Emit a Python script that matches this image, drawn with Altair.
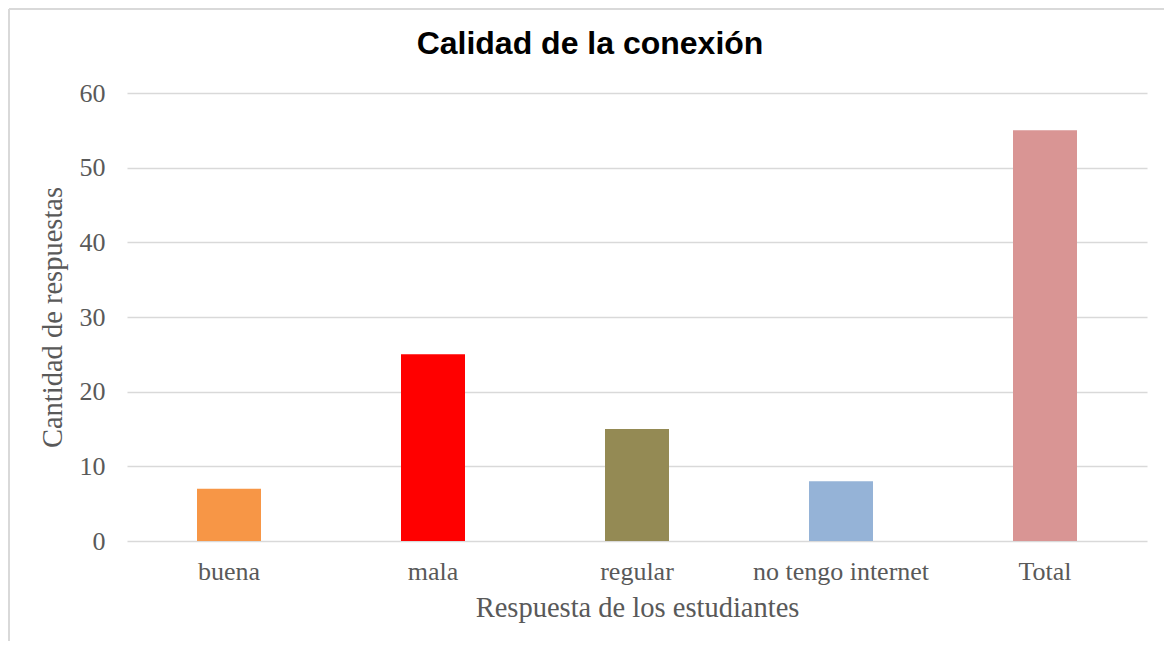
import altair as alt
import pandas as pd

categories = ["buena", "mala", "regular", "no tengo internet", "Total"]
values = [7, 25, 15, 8, 55]
colors = ["#F79646", "#FF0000", "#948A54", "#95B3D7", "#D99594"]
title_text = ["Calidad de la conexión"]

df = pd.DataFrame({"cat": categories, "val": values, "color": colors})

SERIF = "Liberation Serif"
GRAY = "#595959"

bars = alt.Chart(df).mark_bar(size=64).encode(
    x=alt.X("cat:N", sort=categories,
            scale=alt.Scale(paddingInner=0, paddingOuter=0),
            axis=alt.Axis(title="Respuesta de los estudiantes", labelAngle=0,
                          domain=False, ticks=False, labelPadding=17,
                          labelFont=SERIF, labelFontSize=26, labelColor=GRAY,
                          titleFont=SERIF, titleFontSize=28.5, titleColor=GRAY,
                          titleFontWeight="normal", titlePadding=9)),
    y=alt.Y("val:Q", scale=alt.Scale(domain=[0, 60]),
            axis=alt.Axis(title="Cantidad de respuestas", values=[0, 10, 20, 30, 40, 50, 60],
                          domain=False, ticks=False, labelPadding=22,
                          gridColor="#D9D9D9", gridWidth=1.5,
                          labelFont=SERIF, labelFontSize=26, labelColor=GRAY,
                          titleFont=SERIF, titleFontSize=28.5, titleColor=GRAY,
                          titleFontWeight="normal", titlePadding=12)),
    color=alt.Color("color:N", scale=None),
)

title = alt.Chart(pd.DataFrame({"t": title_text})).mark_text(
    font="Liberation Sans", fontSize=32, fontWeight="bold", color="#000000",
    align="center", baseline="middle"
).encode(text="t:N", x=alt.value(463), y=alt.value(-49))

border_left = alt.Chart(df).mark_rule(color="#D9D9D9", strokeWidth=2).encode(
    x=alt.value(-118), y=alt.value(-84), y2=alt.value(570)
)
border_top = alt.Chart(df).mark_rule(color="#D9D9D9", strokeWidth=2).encode(
    x=alt.value(-118), x2=alt.value(1045), y=alt.value(-84)
)

chart = alt.layer(bars, title, border_left, border_top).properties(
    width=1020, height=448,
    autosize=alt.AutoSizeParams(type="none"),
    padding={"left": 119, "top": 85, "right": 17, "bottom": 100},
).configure_view(stroke=None)

chart.save("out.html", embed_options={"renderer": "svg", "actions": False})
